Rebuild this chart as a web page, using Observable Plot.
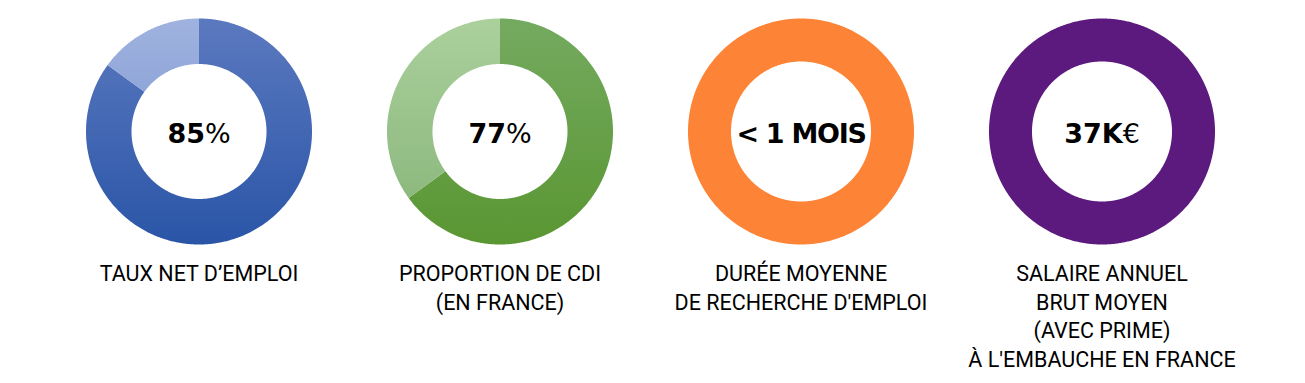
<!DOCTYPE html>
<html>
<head>
<meta charset="utf-8">
<script src="https://cdn.jsdelivr.net/npm/d3@7"></script>
<script src="https://cdn.jsdelivr.net/npm/@observablehq/plot@0.6"></script>
<style>
  html, body { margin: 0; padding: 0; background: #fff; }
  #chart { width: 1305px; height: 383px; }
</style>
</head>
<body>
<div id="chart"></div>
<script>
// ---- data ----
const categories = [
  "TAUX NET D’EMPLOI",
  "PROPORTION DE CDI\n(EN FRANCE)",
  "DURÉE MOYENNE\nDE RECHERCHE D'EMPLOI",
  "SALAIRE ANNUEL\nBRUT MOYEN\n(AVEC PRIME)\nÀ L'EMBAUCHE EN FRANCE"
];
const centerValues = ["85%", "77%", "< 1 MOIS", "37K€"];
const filledShare = [85, 65, 100, 100];     // drawn share of the dark part of each ring
const remainingShare = [15, 35, 0, 0];      // drawn share of the light part

// ---- styles ----
const ringFills = ["url(#blueDark)", "url(#greenDark)", "#fd8436", "#5c1a7f"];
const restFills = ["url(#blueLight)", "url(#greenLight)", "none", "none"];
const gradients = [
  {id: "blueDark", top: "#5b79bf", bottom: "#2a55a7"},
  {id: "blueLight", top: "#a0b3df", bottom: "#6f8bcc"},
  {id: "greenDark", top: "#74aa60", bottom: "#5a9632"},
  {id: "greenLight", top: "#abd09c", bottom: "#85b377"}
];

// ---- layout ----
const W = 1305, H = 383;
const R_OUT = 113;
const R_IN = [67.5, 67.5, 70, 70];

// build ring-slice polygons (in pixel-like units around each facet centre)
const slices = [];
categories.forEach((cat, i) => {
  const parts = [
    {v: filledShare[i], fill: ringFills[i]},
    {v: remainingShare[i], fill: restFills[i]}
  ];
  const total = filledShare[i] + remainingShare[i];
  let start = 0;
  parts.forEach((p, j) => {
    if (p.v <= 0) return;
    const a0 = start / total * 2 * Math.PI;
    const a1 = (start + p.v) / total * 2 * Math.PI;
    start += p.v;
    const n = Math.max(2, Math.ceil((a1 - a0) / (Math.PI / 360)));
    const key = i + "-" + j;
    for (let k = 0; k <= n; k++) {
      const a = a0 + (a1 - a0) * k / n;
      slices.push({cat, key, fill: p.fill, x: R_OUT * Math.sin(a), y: R_OUT * Math.cos(a)});
    }
    for (let k = n; k >= 0; k--) {
      const a = a0 + (a1 - a0) * k / n;
      slices.push({cat, key, fill: p.fill, x: R_IN[i] * Math.sin(a), y: R_IN[i] * Math.cos(a)});
    }
  });
});

const idx = categories.map((_, i) => i);

const svg = Plot.plot({
  width: W,
  height: H,
  marginTop: 0,
  marginBottom: 0,
  marginLeft: 48,
  marginRight: 53,
  style: {background: "#fff"},
  fx: {domain: categories, padding: 0, axis: null},
  x: {domain: [-150.5, 150.5], axis: null},
  y: {domain: [-252, 131], axis: null},
  color: {type: "identity"},
  marks: [
    Plot.line(slices, {
      fx: "cat", x: "x", y: "y", z: "key",
      fill: "fill", stroke: "none", curve: "linear"
    }),
    Plot.text(idx, {
      fx: i => categories[i],
      x: 0, y: -3,
      text: i => centerValues[i],
      fontFamily: "DejaVu Sans",
      fontWeight: "bold",
      fontSize: 27,
      fill: "#000",
      lineAnchor: "middle",
      textAnchor: "middle"
    }),
    Plot.text(idx, {
      fx: i => categories[i],
      x: 0, y: -129.5,
      text: i => categories[i],
      fontFamily: "Roboto",
      fontSize: 21.5,
      lineHeight: 1.33,
      fill: "#000",
      lineAnchor: "top",
      textAnchor: "middle"
    })
  ]
});

// gradient definitions
const NS = "http://www.w3.org/2000/svg";
const defs = document.createElementNS(NS, "defs");
gradients.forEach(g => {
  const lg = document.createElementNS(NS, "linearGradient");
  lg.setAttribute("id", g.id);
  lg.setAttribute("gradientUnits", "userSpaceOnUse");
  lg.setAttribute("x1", 0); lg.setAttribute("x2", 0);
  lg.setAttribute("y1", 18); lg.setAttribute("y2", 244);
  [[0, g.top], [1, g.bottom]].forEach(([o, c]) => {
    const s = document.createElementNS(NS, "stop");
    s.setAttribute("offset", o);
    s.setAttribute("stop-color", c);
    lg.appendChild(s);
  });
  defs.appendChild(lg);
});
svg.insertBefore(defs, svg.firstChild);

// lighter weight for unit symbols (% and €); tighter spacing for the long value
svg.querySelectorAll("text").forEach(t => {
  const s = t.textContent;
  if (t.childElementCount !== 0) return;
  if (/[%€]$/.test(s)) {
    t.textContent = "";
    const a = document.createElementNS(NS, "tspan");
    a.textContent = s.slice(0, -1);
    const b = document.createElementNS(NS, "tspan");
    b.textContent = s.slice(-1);
    b.setAttribute("font-weight", "normal");
    t.appendChild(a); t.appendChild(b);
  } else if (centerValues.includes(s)) {
    t.setAttribute("letter-spacing", "-1.3");
  }
});

document.getElementById("chart").appendChild(svg);
</script>
</body>
</html>
